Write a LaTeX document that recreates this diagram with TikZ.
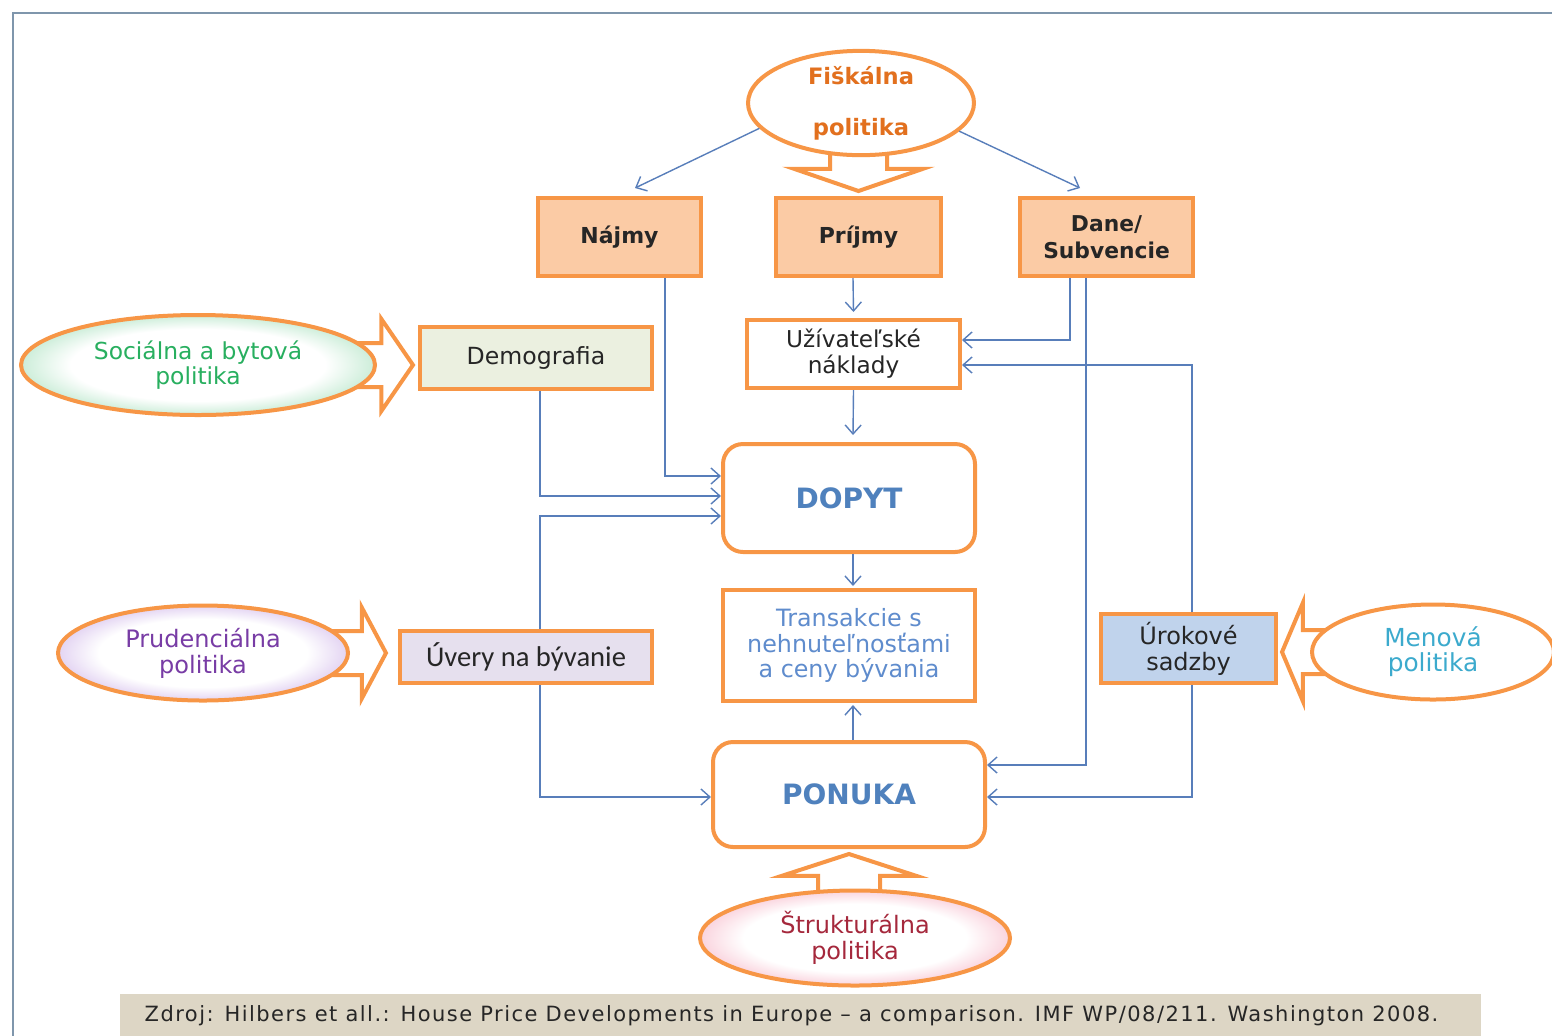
\documentclass[tikz,border=0pt]{standalone}
\usepackage{fontspec}
\setmainfont{DejaVu Sans}
\newfontfamily\calfont{Carlito}
\newfontfamily\srcfont[LetterSpace=7]{DejaVu Sans}
\usetikzlibrary{positioning,shapes.geometric,shapes.arrows,arrows.meta}

\definecolor{edgeorange}{RGB}{247,150,70}
\definecolor{linkblue}{RGB}{88,126,186}
\definecolor{framegray}{RGB}{127,150,172}
\definecolor{peach}{RGB}{251,203,165}
\definecolor{demofill}{RGB}{235,240,224}
\definecolor{uveryfill}{RGB}{230,224,238}
\definecolor{urokfill}{RGB}{192,211,236}
\definecolor{footfill}{RGB}{221,214,197}
\definecolor{fistext}{RGB}{226,112,30}
\definecolor{soctext}{RGB}{40,175,95}
\definecolor{prudtext}{RGB}{120,60,165}
\definecolor{mentext}{RGB}{60,170,205}
\definecolor{struktext}{RGB}{165,40,60}
\definecolor{maintext}{RGB}{79,129,189}
\definecolor{transtext}{RGB}{95,140,205}

\pgfdeclareradialshading{glowgreen}{\pgfpoint{0bp}{0bp}}{rgb(0bp)=(1,1,1); rgb(18bp)=(1,1,1); rgb(25bp)=(0.80,0.93,0.85); rgb(50bp)=(0.80,0.93,0.85)}
\pgfdeclareradialshading{glowpurple}{\pgfpoint{0bp}{0bp}}{rgb(0bp)=(1,1,1); rgb(18bp)=(1,1,1); rgb(25bp)=(0.89,0.83,0.95); rgb(50bp)=(0.89,0.83,0.95)}
\pgfdeclareradialshading{glowpink}{\pgfpoint{0bp}{0bp}}{rgb(0bp)=(1,1,1); rgb(18bp)=(1,1,1); rgb(25bp)=(0.98,0.83,0.87); rgb(50bp)=(0.98,0.83,0.87)}

\tikzset{
  box/.style={draw=edgeorange, line width=2pt, inner sep=2pt, align=center, text=black!85},
  roundbox/.style={box, rounded corners=10pt, fill=white, text=maintext,
    font=\fontsize{14}{16}\selectfont\bfseries},
  policy/.style={ellipse, draw=edgeorange, line width=2pt, inner sep=0pt, align=center},
  glow/.style={shade, shading=#1},
  link/.style={draw=linkblue, line width=0.7pt, -{Straight Barb[length=4.5pt,width=8pt]}},
  bigarrow/.style={single arrow, draw=edgeorange, line width=2pt, fill=white,
    minimum width=0pt, inner sep=0pt, outer sep=0pt, anchor=tip}
}

\begin{document}
\begin{tikzpicture}[x=0.5pt,y=-0.5pt]
  \useasboundingbox (0,0) rectangle (1552,1035);
  \draw[framegray, line width=1.2pt] (1560,13) -- (13,13) -- (13,1045);

  % boxes
  \node[box, fill=peach, minimum width=81.5pt, minimum height=39pt,
        font=\fontsize{11}{13.5}\selectfont\bfseries] (najmy) at (619.5,237) {Nájmy};
  \node[box, fill=peach, minimum width=82.5pt, minimum height=39pt,
        font=\fontsize{11}{13.5}\selectfont\bfseries] (prijmy) at (858.5,237) {Príjmy};
  \node[box, fill=peach, minimum width=86.5pt, minimum height=39pt,
        font=\fontsize{10.9}{13.5}\selectfont\bfseries] (dane) at (1106.5,237) {Dane/\\Subvencie};
  \node[box, fill=white, minimum width=106.5pt, minimum height=34pt,
        font=\fontsize{11.6}{13}\selectfont] (uziv) at (853.5,354) {Užívateľské\\náklady};
  \node[box, fill=demofill, minimum width=116pt, minimum height=31pt,
        font=\fontsize{11.8}{13}\selectfont] (demo) at (536,358) {Demografia};
  \node[box, fill=uveryfill, minimum width=126pt, minimum height=26pt,
        font=\calfont\fontsize{14.3}{16}\selectfont] (uvery) at (526,657) {Úvery na bývanie};
  \node[box, fill=urokfill, minimum width=87.5pt, minimum height=34.5pt,
        font=\fontsize{12}{13}\selectfont] (urok) at (1188.5,648.5) {Úrokové\\sadzby};
  \node[roundbox, minimum width=126pt, minimum height=54pt] (dopyt) at (849,498) {DOPYT};
  \node[box, fill=white, minimum width=126pt, minimum height=55.5pt, text=transtext,
        font=\fontsize{11.9}{12.75}\selectfont] (trans) at (849,645.5) {Transakcie s\\nehnuteľnosťami\\a ceny bývania};
  \node[roundbox, minimum width=136pt, minimum height=52.5pt] (ponuka) at (849,794.5) {PONUKA};

  % hollow block arrows
  \node[bigarrow, shape border rotate=270, minimum height=30pt, inner xsep=13.25pt,
        single arrow head extend=18pt, single arrow tip angle=142]
        (fisarr) at ([yshift=2.5pt]prijmy.north) {};
  \node[bigarrow, minimum height=28pt, inner ysep=10pt,
        single arrow head extend=12pt, single arrow tip angle=111]
        (socarr) at ([xshift=-2.5pt,yshift=-3.5pt]demo.west) {};
  \node[bigarrow, minimum height=27pt, inner ysep=10pt,
        single arrow head extend=11.75pt, single arrow tip angle=124]
        (prudarr) at ([xshift=-6pt,yshift=2pt]uvery.west) {};
  \node[bigarrow, shape border rotate=180, minimum height=26pt, inner ysep=10pt,
        single arrow head extend=13.5pt, single arrow tip angle=134]
        (menarr) at ([xshift=2pt,yshift=-1.75pt]urok.east) {};
  \node[bigarrow, shape border rotate=90, minimum height=25pt, inner xsep=14.5pt,
        single arrow head extend=18pt, single arrow tip angle=144]
        (strukarr) at ([yshift=-2.5pt]ponuka.south) {};

  % policies
  \node[policy, fill=white, minimum width=113pt, minimum height=50pt, text=fistext,
        font=\fontsize{11.3}{13}\selectfont\bfseries] (fis) at (861,103) {Fiškálna\\[12.5pt]politika};
  \node[policy, glow=glowgreen, minimum width=177pt, minimum height=50pt, text=soctext,
        font=\fontsize{11.7}{12.5}\selectfont] (soc) at (198,365) {Sociálna a bytová\\politika};
  \node[policy, glow=glowpurple, minimum width=145pt, minimum height=47.5pt, text=prudtext,
        font=\fontsize{12}{13}\selectfont] (prud) at (203,653) {Prudenciálna\\politika};
  \node[policy, fill=white, minimum width=121pt, minimum height=47.5pt, text=mentext,
        font=\fontsize{12.4}{12.5}\selectfont] (men) at (1433,652) {Menová\\politika};
  \node[policy, glow=glowpink, minimum width=155pt, minimum height=47.5pt, text=struktext,
        font=\fontsize{12}{13}\selectfont] (struk) at (855,938) {Štrukturálna\\politika};

  % connectors
  \draw[link] (fis.194) -- ([xshift=7.75pt,yshift=4pt]najmy.north);
  \draw[link] (fis.344) -- ([xshift=-13.25pt,yshift=4pt]dane.north);
  \draw[link] ([xshift=-2.75pt]prijmy.south) -- ([yshift=3pt]uziv.north);
  \draw[link] (uziv.south) -- ([xshift=2pt,yshift=3.5pt]dopyt.north);
  \draw[link] ([xshift=2pt]dopyt.south) -- ([xshift=2pt,yshift=1pt]trans.north);
  \draw[link] ([xshift=2pt]ponuka.north) -- ([xshift=2pt,yshift=-1pt]trans.south);
  \draw[link] ([xshift=22.75pt]najmy.south) |- ([yshift=11pt]dopyt.west);
  \draw[link] ([xshift=2pt]demo.south) |- ([yshift=1pt]dopyt.west);
  \draw[link] ([xshift=7pt]uvery.north) |- ([yshift=-9pt]dopyt.west);
  \draw[link] ([xshift=7pt]uvery.south) |- ([yshift=-1.25pt]ponuka.west);
  \draw[link] ([xshift=-18.25pt]dane.south) |- ([yshift=7pt]uziv.east);
  \draw[link] ([xshift=-10.25pt]dane.south) |- ([yshift=14.75pt]ponuka.east);
  \draw[link] ([xshift=1.75pt]urok.north) |- ([yshift=-5.5pt]uziv.east);
  \draw[link] ([xshift=1.75pt]urok.south) |- ([yshift=-1.25pt]ponuka.east);

  % source line
  \node[fill=footfill, minimum width=680.5pt, minimum height=22pt, inner sep=0pt,
        font=\srcfont\fontsize{10.5}{12}\selectfont, text=black!85] (src) at (800.5,1016)
        {Zdroj: Hilbers et all.: House Price Developments in Europe – a comparison. IMF WP/08/211. Washington 2008.\hspace*{9pt}};
\end{tikzpicture}
\end{document}
